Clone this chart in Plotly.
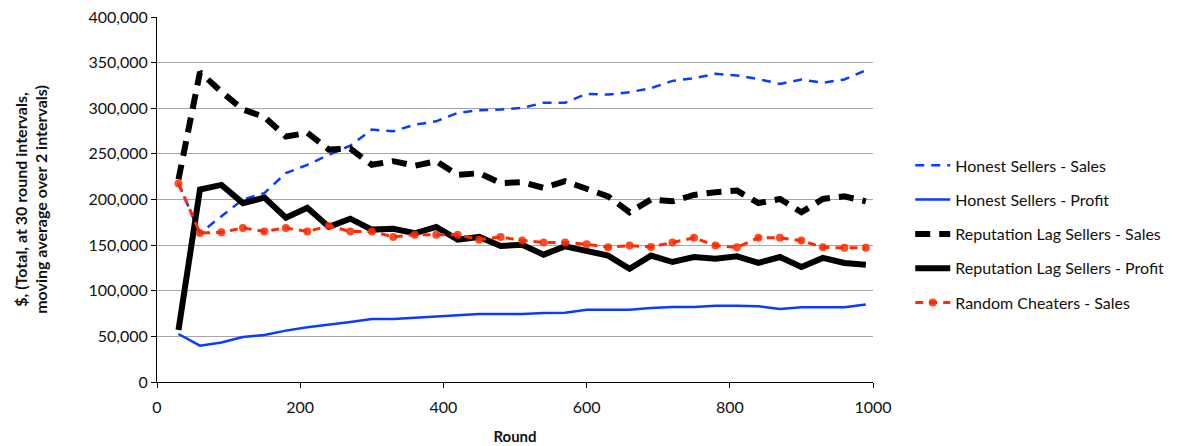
import plotly.graph_objects as go

rounds = list(range(30, 1000, 30))

honest_sales = [217500, 163000, 181600, 200000, 207000, 229000, 238000, 249000, 259000, 276600,
                274800, 282000, 285700, 295000, 297800, 298600, 300400, 306000, 306000, 315800,
                315000, 317600, 322000, 330000, 333000, 337700, 336000, 332000, 326700, 331500,
                328000, 331500, 341700]

honest_profit = [52600, 39800, 43400, 49300, 51500, 56300, 60000, 62500, 65800, 69000,
                 69000, 70500, 72000, 72700, 74500, 74500, 74500, 75600, 76000, 79300,
                 79300, 79300, 81000, 82200, 82200, 83500, 83500, 83000, 80000, 81800,
                 81800, 81800, 85000]

replag_sales = [222000, 339500, 318000, 298600, 290500, 269000, 273000, 254700, 255800, 238000,
                242000, 237000, 242000, 227000, 228800, 218000, 219000, 212700, 220000, 211600,
                203500, 186000, 200000, 198000, 205000, 208000, 209800, 196000, 200600, 186000,
                200600, 203500, 198000]

replag_profit = [57000, 211000, 216000, 196000, 202000, 180000, 191000, 170000, 179000, 167000,
                 168000, 163000, 170000, 156000, 159000, 149000, 150500, 139600, 148700, 143000,
                 138500, 124000, 138500, 131500, 137000, 135000, 137700, 130500, 137000, 126000,
                 136000, 130500, 128600]

cheater_sales = [217500, 163400, 164000, 168800, 165000, 168800, 165000, 171000, 165000, 165000,
                 159000, 161500, 161500, 161500, 156000, 159000, 155000, 153000, 153000, 151000,
                 147600, 149500, 148000, 153000, 158000, 149500, 147600, 158000, 158000, 155000,
                 147600, 147000, 147000]

BLUE = "#0a3cff"
RED = "#ff2a00"

fig = go.Figure()

fig.add_trace(go.Scatter(x=rounds, y=honest_sales, mode="lines", name="Honest Sellers - Sales",
                         line=dict(color=BLUE, width=2.5, dash="9px,7px"), legendgroup="a"))
fig.add_trace(go.Scatter(x=rounds, y=honest_profit, mode="lines", name="Honest Sellers - Profit",
                         line=dict(color=BLUE, width=2.5), legendgroup="b"))
fig.add_trace(go.Scatter(x=rounds, y=replag_sales, mode="lines", name="Reputation Lag Sellers - Sales",
                         line=dict(color="black", width=6, dash="15px,9px"), legendgroup="c"))
fig.add_trace(go.Scatter(x=rounds, y=replag_profit, mode="lines", name="Reputation Lag Sellers - Profit",
                         line=dict(color="black", width=6), legendgroup="d"))
fig.add_trace(go.Scatter(x=rounds, y=cheater_sales, mode="lines+markers", name="Random Cheaters - Sales",
                         line=dict(color=RED, width=3, dash="8px,6px"),
                         marker=dict(color=RED, size=8, opacity=0.85), legendgroup="e"))

fig.update_layout(
    width=1199, height=446,
    margin=dict(l=157, r=326, t=17, b=64),
    paper_bgcolor="white", plot_bgcolor="white",
    font=dict(family="Lato, 'Open Sans', sans-serif", size=16, color="#111"),
    showlegend=True,
    legend=dict(x=1.052, y=0.64, xanchor="left", yanchor="top",
                traceorder="grouped", tracegroupgap=10.5,
                font=dict(size=16, color="#111"), itemwidth=35,
                bgcolor="rgba(0,0,0,0)"),
)

fig.update_xaxes(
    range=[0, 1000], dtick=200, tick0=0, automargin=False,
    showline=True, linecolor="black", linewidth=1,
    ticks="outside", ticklen=5, tickcolor="black",
    tickfont=dict(size=16), ticklabelstandoff=6,
    showgrid=False, zeroline=False,
    title=dict(text="<b>Round</b>", font=dict(size=15), standoff=16),
)
fig.update_yaxes(
    range=[0, 400000], dtick=50000, tick0=0, tickformat=",", automargin=False,
    showline=True, linecolor="black", linewidth=1,
    ticks="outside", ticklen=5, tickcolor="black",
    tickfont=dict(size=16),
    showgrid=True, gridcolor="#a6a6a6", gridwidth=1, zeroline=False,
    title=dict(text="<b>$, (Total, at 30 round intervals,<br>moving average over 2 intervals)</b>",
               font=dict(size=16), standoff=36),
)

fig.write_html("out.html")
